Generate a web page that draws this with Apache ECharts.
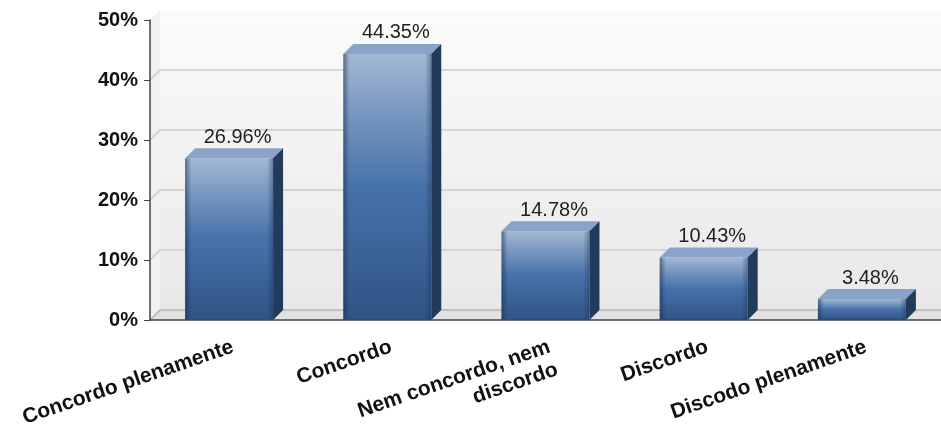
<!DOCTYPE html>
<html>
<head>
<meta charset="utf-8">
<script src="https://cdn.jsdelivr.net/npm/echarts@6/dist/echarts.min.js"></script>
<style>
  html, body { margin: 0; padding: 0; background: #ffffff; }
  #chart { width: 941px; height: 432px; }
</style>
</head>
<body>
<div id="chart"></div>
<script>
// Survey answers and their shares (percent)
const categories = [
  'Concordo plenamente',
  'Concordo',
  'Nem concordo, nem\ndiscordo',
  'Discordo',
  'Discodo plenamente'
];
const percentages = [26.96, 44.35, 14.78, 10.43, 3.48];
const yTicks = [0, 10, 20, 30, 40, 50];

// Depth of the pseudo-3D extrusion, in pixels
const DEPTH = 10;
const FONT = '"Liberation Sans", Arial, sans-serif';

// Back wall, side wall, floor and gridlines of the 3D box
function renderWall(params, api) {
  const cs = params.coordSys;
  const x0 = cs.x, x1 = cs.x + cs.width;
  const yt = cs.y, yb = cs.y + cs.height;
  const d = DEPTH;
  const children = [];
  children.push({
    type: 'rect',
    shape: { x: x0 + d, y: yt - d, width: x1 - x0 - d, height: yb - yt },
    style: {
      fill: { type: 'linear', x: 0, y: 0, x2: 0, y2: 1, colorStops: [
        { offset: 0, color: '#fbfbfb' }, { offset: 1, color: '#e8e8e8' }
      ] }
    }
  });
  children.push({
    type: 'polygon',
    shape: { points: [[x0, yt], [x0 + d, yt - d], [x0 + d, yb - d], [x0, yb]] },
    style: { fill: '#f1f1f1' }
  });
  children.push({
    type: 'polygon',
    shape: { points: [[x0, yb], [x0 + d, yb - d], [x1, yb - d], [x1, yb]] },
    style: { fill: '#e1e1e1' }
  });
  yTicks.forEach(function (v) {
    if (v === yTicks[yTicks.length - 1]) return;
    const y = api.coord([0, v])[1];
    children.push({
      type: 'polyline',
      shape: { points: [[x0, y], [x0 + d, y - d], [x1, y - d]] },
      style: { stroke: v === 0 ? '#b4b4b4' : '#cbcbcb', lineWidth: 1.5, fill: null }
    });
  });
  return { type: 'group', children: children };
}

// One extruded bar: front face, top face, side face and its value label
function renderBar(params, api) {
  const idx = api.value(0);
  const val = api.value(1);
  const top = api.coord([idx, val]);
  const base = api.coord([idx, 0]);
  const w = api.size([1, 0])[0] * 0.556;
  const d = DEPTH;
  const x = top[0] - w / 2;
  const yT = top[1], yB = base[1];
  return {
    type: 'group',
    children: [
      {
        type: 'rect',
        shape: { x: x, y: yT, width: w, height: yB - yT },
        style: {
          fill: { type: 'linear', x: 0, y: 0, x2: 0, y2: 1, colorStops: [
            { offset: 0, color: '#a3b8d4' },
            { offset: 0.25, color: '#7393bd' },
            { offset: 0.5, color: '#4672aa' },
            { offset: 0.75, color: '#3b6398' },
            { offset: 1, color: '#2f5384' }
          ] }
        }
      },
      {
        type: 'rect',
        shape: { x: x, y: yT, width: w, height: yB - yT },
        style: {
          fill: { type: 'linear', x: 0, y: 0, x2: 1, y2: 0, colorStops: [
            { offset: 0, color: 'rgba(25,45,80,0.55)' },
            { offset: 0.07, color: 'rgba(25,45,80,0)' },
            { offset: 0.93, color: 'rgba(25,45,80,0)' },
            { offset: 1, color: 'rgba(25,45,80,0.4)' }
          ] }
        }
      },
      {
        type: 'polygon',
        shape: { points: [[x, yT], [x + d, yT - d], [x + w + d, yT - d], [x + w, yT]] },
        style: { fill: '#89a4c8' }
      },
      {
        type: 'polygon',
        shape: { points: [[x + w, yT], [x + w + d, yT - d], [x + w + d, yB - d], [x + w, yB]] },
        style: { fill: '#223a5b' }
      },
      {
        type: 'text',
        style: {
          text: val.toFixed(2) + '%',
          x: top[0] + d * 0.85,
          y: yT - d - 1,
          align: 'center',
          verticalAlign: 'bottom',
          fontFamily: FONT,
          fontSize: 20,
          fill: '#1e1e1e'
        }
      }
    ]
  };
}

const chart = echarts.init(document.getElementById('chart'));
chart.setOption({
  backgroundColor: '#ffffff',
  animation: false,
  grid: { left: 150, right: 0, top: 20, bottom: 112, outerBoundsMode: 'none' },
  xAxis: {
    type: 'category',
    data: categories,
    z: 5,
    axisLine: { lineStyle: { color: '#444444', width: 1.5 } },
    axisTick: { alignWithLabel: true, length: 6, lineStyle: { color: '#444444' } },
    axisLabel: {
      interval: 0,
      rotate: 19,
      margin: 15,
      align: 'right',
      verticalAlign: 'top',
      fontFamily: FONT,
      fontWeight: 'bold',
      fontSize: 21,
      lineHeight: 24,
      color: '#111111'
    }
  },
  yAxis: {
    type: 'value',
    min: 0,
    max: 50,
    interval: 10,
    z: 5,
    axisLine: { show: true, lineStyle: { color: '#444444', width: 1.5 } },
    axisTick: { show: true, length: 6, lineStyle: { color: '#444444' } },
    splitLine: { show: false },
    axisLabel: {
      formatter: '{value}%',
      margin: 12,
      fontFamily: FONT,
      fontWeight: 'bold',
      fontSize: 20,
      color: '#111111'
    }
  },
  series: [
    {
      type: 'custom',
      z: 1,
      silent: true,
      renderItem: renderWall,
      data: [[0, 0]],
      encode: { x: 0, y: 1 }
    },
    {
      type: 'custom',
      z: 2,
      renderItem: renderBar,
      data: percentages.map(function (v, i) { return [i, v]; }),
      encode: { x: 0, y: 1 }
    }
  ]
});
</script>
</body>
</html>
